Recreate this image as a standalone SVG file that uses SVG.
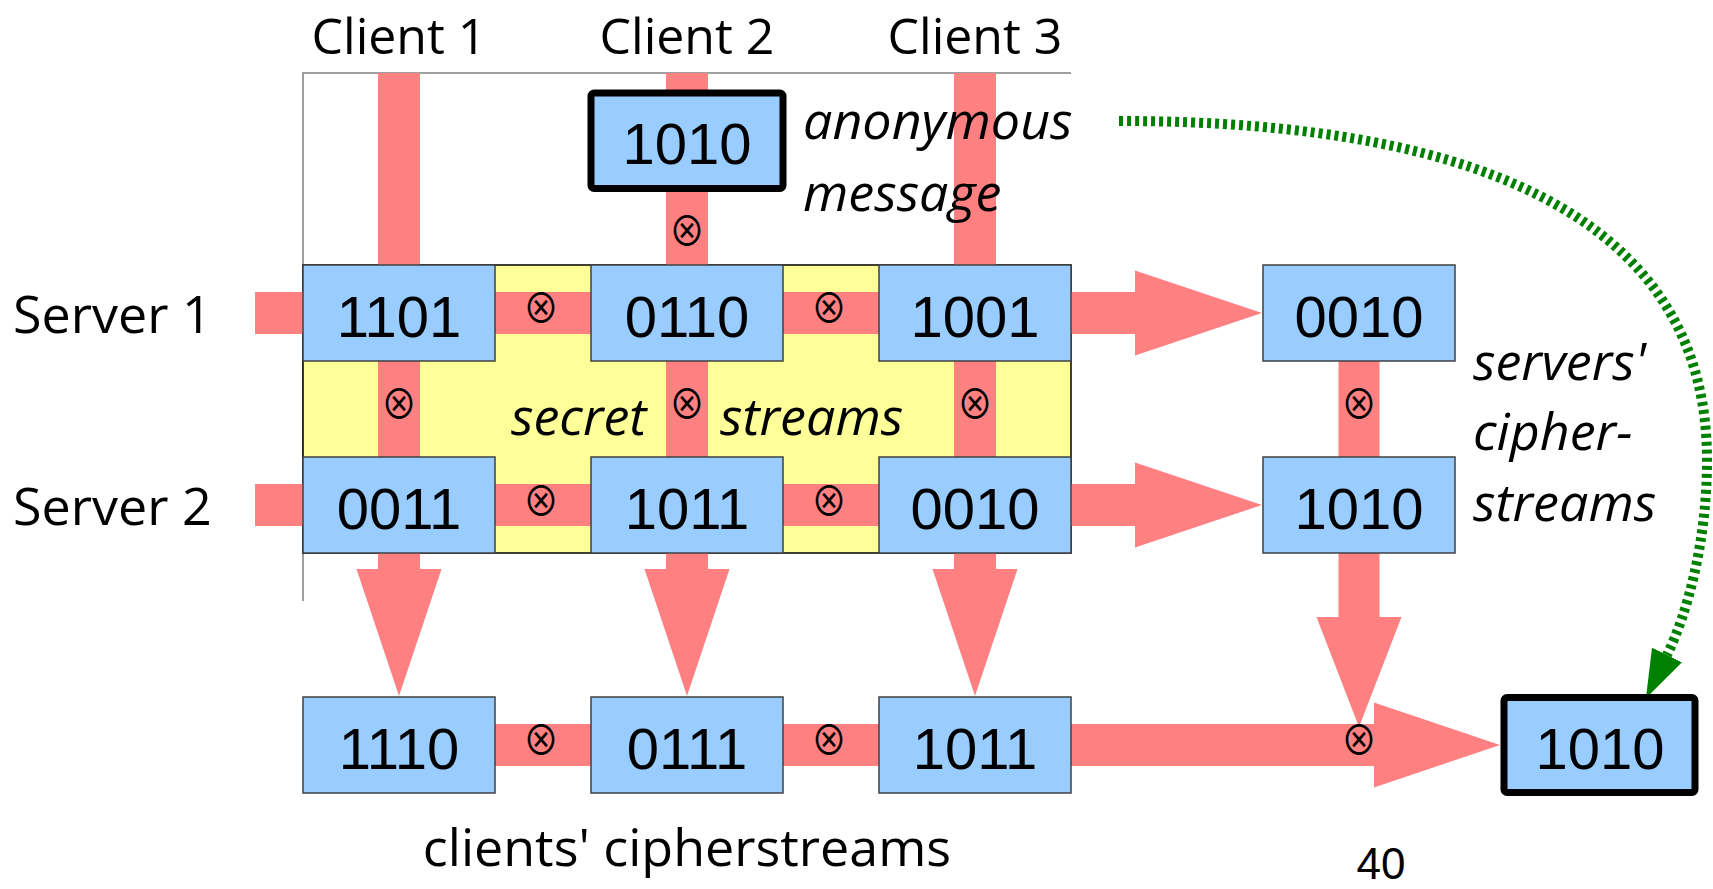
<svg xmlns="http://www.w3.org/2000/svg" width="1713" height="889" viewBox="0 0 1713 889">
<style>
.b{fill:#99CCFF;stroke:#404040;stroke-width:1.5}
.bk{fill:#99CCFF;stroke:#000;stroke-width:7}
.r{fill:#FF8080}
.n{font-family:"Liberation Sans",Arial,sans-serif;font-size:58px;text-anchor:middle;fill:#000}
.l{font-family:"Open Sans","Noto Sans",sans-serif;font-size:52px;fill:#000}
.c{font-family:"Open Sans","Noto Sans",sans-serif;font-size:50px;fill:#000;text-anchor:middle}
.i{font-family:"Open Sans","Noto Sans",sans-serif;font-size:52px;font-style:italic;fill:#000}
.x{font-family:"Noto Sans CJK JP","DejaVu Sans",sans-serif;font-size:36px;text-anchor:middle;fill:#000}
.g{fill:none;stroke:#808080;stroke-width:1.5}
</style>
<defs>
<marker id="ga" markerUnits="userSpaceOnUse" markerWidth="48" markerHeight="34" viewBox="0 0 46 32" refX="0" refY="16" orient="auto">
<path d="M0,0 L46,16 L0,32 Z" fill="#008000"/>
</marker>
</defs>
<rect width="1713" height="889" fill="#fff"/>
<g id="frame">
<path class="g" d="M303,601 V73 H1071"/>
<rect x="303" y="265" width="768" height="288" fill="#FFFF99" stroke="#000" stroke-width="1.5"/>
</g>
<g id="connectors">
<rect class="r" x="378" y="73" width="42" height="496"/>
<polygon class="r" points="356.5,569 441.5,569 399,696"/>
<rect class="r" x="666" y="73" width="42" height="496"/>
<polygon class="r" points="644.5,569 729.5,569 687,696"/>
<rect class="r" x="954" y="73" width="42" height="496"/>
<polygon class="r" points="932.5,569 1017.5,569 975,696"/>
<rect class="r" x="255" y="292" width="880" height="42"/>
<polygon class="r" points="1135,270.5 1135,355.5 1262,313"/>
<rect class="r" x="255" y="484" width="880" height="42"/>
<polygon class="r" points="1135,462.5 1135,547.5 1262,505"/>
<rect class="r" x="1338.5" y="361" width="41" height="256"/>
<polygon class="r" points="1316.5,617 1401.5,617 1359,727"/>
<rect class="r" x="399" y="724" width="975" height="42"/>
<polygon class="r" points="1374,702.5 1374,787.5 1500,745"/>
<path d="M1119,121 C1499,121 1707,230 1707,460 C1707,540 1688,612 1667,655" fill="none" stroke="#008000" stroke-width="10" stroke-dasharray="4 4" marker-end="url(#ga)"/>
</g>
<g id="anon"><rect class="bk" x="591" y="93" width="192" height="95.5" rx="3"/><text class="n" x="687" y="164">1010</text></g>
<g id="s1c1"><rect class="b" x="303" y="265" width="192" height="96"/><text class="n" x="399" y="337">1101</text></g>
<g id="s1c2"><rect class="b" x="591" y="265" width="192" height="96"/><text class="n" x="687" y="337">0110</text></g>
<g id="s1c3"><rect class="b" x="879" y="265" width="192" height="96"/><text class="n" x="975" y="337">1001</text></g>
<g id="s1out"><rect class="b" x="1263" y="265" width="192" height="96"/><text class="n" x="1359" y="337">0010</text></g>
<g id="s2c1"><rect class="b" x="303" y="457" width="192" height="96"/><text class="n" x="399" y="529">0011</text></g>
<g id="s2c2"><rect class="b" x="591" y="457" width="192" height="96"/><text class="n" x="687" y="529">1011</text></g>
<g id="s2c3"><rect class="b" x="879" y="457" width="192" height="96"/><text class="n" x="975" y="529">0010</text></g>
<g id="s2out"><rect class="b" x="1263" y="457" width="192" height="96"/><text class="n" x="1359" y="529">1010</text></g>
<g id="c1out"><rect class="b" x="303" y="697" width="192" height="96"/><text class="n" x="399" y="769">1110</text></g>
<g id="c2out"><rect class="b" x="591" y="697" width="192" height="96"/><text class="n" x="687" y="769">0111</text></g>
<g id="c3out"><rect class="b" x="879" y="697" width="192" height="96"/><text class="n" x="975" y="769">1011</text></g>
<g id="result"><rect class="bk" x="1504" y="697.5" width="191" height="95" rx="3"/><text class="n" x="1600" y="769">1010</text></g>
<g id="xors">
<text class="x" transform="translate(541,309) scale(1,1.15)" x="0" y="12.5">⊗</text>
<text class="x" transform="translate(829,309) scale(1,1.15)" x="0" y="12.5">⊗</text>
<text class="x" transform="translate(541,502) scale(1,1.15)" x="0" y="12.5">⊗</text>
<text class="x" transform="translate(829,502) scale(1,1.15)" x="0" y="12.5">⊗</text>
<text class="x" transform="translate(399,405) scale(1,1.15)" x="0" y="12.5">⊗</text>
<text class="x" transform="translate(687,405) scale(1,1.15)" x="0" y="12.5">⊗</text>
<text class="x" transform="translate(975,405) scale(1,1.15)" x="0" y="12.5">⊗</text>
<text class="x" transform="translate(687,232) scale(1,1.15)" x="0" y="12.5">⊗</text>
<text class="x" transform="translate(541,741) scale(1,1.15)" x="0" y="12.5">⊗</text>
<text class="x" transform="translate(829,741) scale(1,1.15)" x="0" y="12.5">⊗</text>
<text class="x" transform="translate(1359,405) scale(1,1.15)" x="0" y="12.5">⊗</text>
<text class="x" transform="translate(1359,741) scale(1,1.15)" x="0" y="12.5">⊗</text>
</g>
<g id="labels">
<text class="c" x="399" y="54">Client 1</text>
<text class="c" x="687" y="54">Client 2</text>
<text class="c" x="975" y="54">Client 3</text>
<text class="l" x="13" y="333">Server 1</text>
<text class="l" x="13" y="525">Server 2</text>
<text class="i" x="803" y="139">anonymous</text>
<text class="i" x="803" y="211">message</text>
<text class="i" x="511" y="435">secret</text>
<text class="i" x="720" y="435">streams</text>
<text class="i" x="1473" y="380">servers'</text>
<text class="i" x="1473" y="450">cipher-</text>
<text class="i" x="1473" y="521">streams</text>
<text class="l" x="687" y="866" text-anchor="middle">clients' cipherstreams</text>
<text x="1381" y="879" font-family="Liberation Sans, Arial, sans-serif" font-size="44" text-anchor="middle">40</text>
</g>
</svg>
